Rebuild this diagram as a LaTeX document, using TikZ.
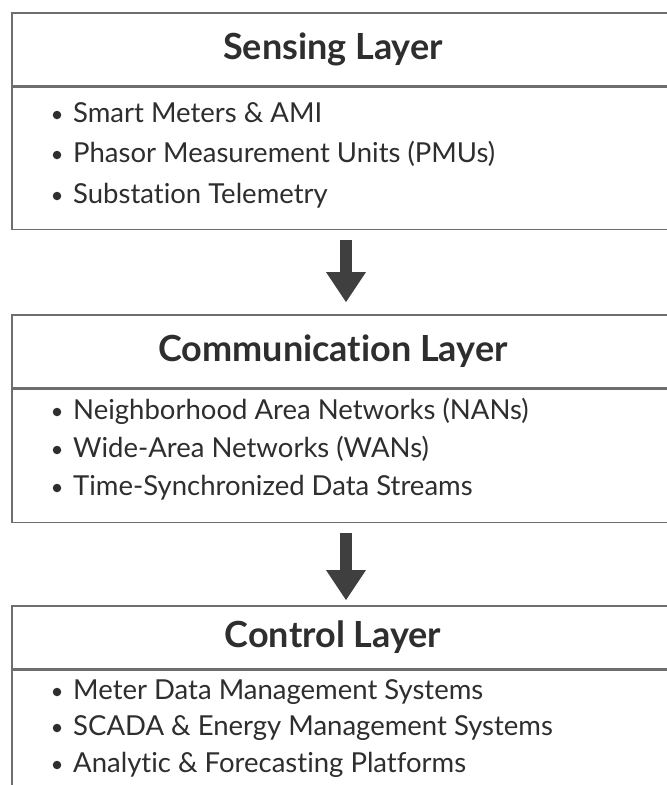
\documentclass[tikz,border=0pt]{standalone}
\usepackage{fontspec}
\setmainfont{Lato}[Ligatures={NoCommon}]
\usetikzlibrary{arrows.meta,calc}
\definecolor{boxline}{HTML}{6E6E6E}
\definecolor{txt}{HTML}{2E2E2E}
\definecolor{arrowcol}{HTML}{3F3F3F}
\tikzset{
  titlebox/.style={draw=boxline, line width=1.6pt, anchor=north, minimum width=666pt, inner sep=0pt,
     font=\fontsize{36}{42}\selectfont\bfseries, text=txt},
  bodybox/.style={draw=boxline, line width=1.6pt, anchor=north, minimum width=666pt, inner sep=0pt},
  itemtext/.style={anchor=base west, inner sep=0pt, font=\fontsize{27.5}{32}\selectfont, text=txt},
  itemdot/.style={circle, fill=txt, minimum size=8.5pt, inner sep=0pt},
  bigarrow/.style={arrowcol, line width=12pt, -{Triangle[length=30pt,width=40pt,line width=0pt]}}
}
\newcommand{\shiftleft}{\hspace*{-24pt}}
\begin{document}
\begin{tikzpicture}[x=1pt,y=-1pt]
\useasboundingbox (0,0) rectangle (667,785);
\clip (0,0) rectangle (667,785);
\fill[white] (0,0) rectangle (667,785);
% Sensing layer
\node[titlebox, minimum height=73pt] (st) at (345,12) {\shiftleft Sensing Layer};
\node[bodybox, minimum height=142pt] (sb) at (st.south) {};
\node[itemdot] (s1d) at (57,115) {};
\node[itemtext] (s1) at (73,122.5) {Smart Meters \& AMI};
\node[itemdot] (s2d) at (57,155) {};
\node[itemtext] (s2) at (73,162.5) {Phasor Measurement Units (PMUs)};
\node[itemdot] (s3d) at (57,196) {};
\node[itemtext] (s3) at (73,203.5) {Substation Telemetry};
% Communication layer
\node[titlebox, minimum height=73pt] (ct) at (345,314) {\shiftleft Communication Layer};
\node[bodybox, minimum height=133pt] (cb) at (ct.south) {};
\node[itemdot] (c1d) at (57,412) {};
\node[itemtext] (c1) at (73,419.5) {Neighborhood Area Networks (NANs)};
\node[itemdot] (c2d) at (57,450) {};
\node[itemtext] (c2) at (73,457.5) {Wide-Area Networks (WANs)};
\node[itemdot] (c3d) at (57,488) {};
\node[itemtext] (c3) at (73,495.5) {Time-Synchronized Data Streams};
% Control layer
\node[titlebox, minimum height=63pt] (kt) at (345,605) {\shiftleft Control Layer};
\node[bodybox, minimum height=180pt] (kb) at (kt.south) {};
\node[itemdot] (k1d) at (57,692) {};
\node[itemtext] (k1) at (73,699.5) {Meter Data Management Systems};
\node[itemdot] (k2d) at (57,728) {};
\node[itemtext] (k2) at (73,735.5) {SCADA \& Energy Management Systems};
\node[itemdot] (k3d) at (57,765) {};
\node[itemtext] (k3) at (73,772.5) {Analytic \& Forecasting Platforms};
% arrows
\draw[bigarrow] ($(sb.south)+(1,10)$) -- ($(ct.north)+(1,-12)$);
\draw[bigarrow] ($(cb.south)+(1,10)$) -- ($(kt.north)+(1,-5)$);
\end{tikzpicture}
\end{document}
